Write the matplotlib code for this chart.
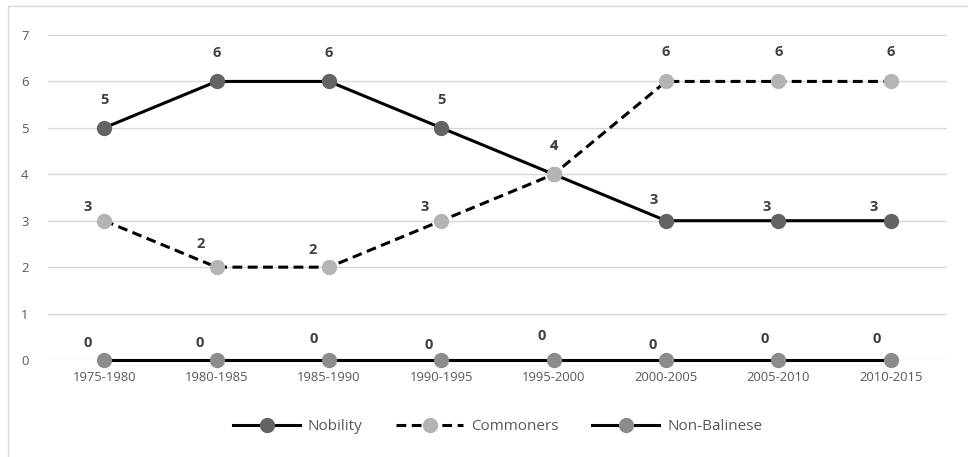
import matplotlib
matplotlib.use("Agg")
from matplotlib import pyplot as plt
from matplotlib.patches import Rectangle

# periods on the x axis
periods = ['1975-1980', '1980-1985', '1985-1990', '1990-1995',
           '1995-2000', '2000-2005', '2005-2010', '2010-2015']

nobility = [5, 6, 6, 5, 4, 3, 3, 3]
commoners = [3, 2, 2, 3, 4, 6, 6, 6]
non_balinese = [0, 0, 0, 0, 0, 0, 0, 0]

# label offsets in pixels (dx, dy), Excel pushed some of them aside
nob_off = [(0, 28), (0, 28), (0, 28), (0, 28), (0, 28), (-12, 21), (-12, 14), (-17, 14)]
com_off = [(-16, 14), (-16, 23), (-16, 17), (-17, 14), (0, 28), (0, 29), (0, 29), (0, 29)]
non_off = [(-17, 17), (-17, 17), (-15, 21), (-13, 15), (-12, 24), (-13, 15), (-14, 21), (-14, 21)]

plt.rcParams['font.family'] = ['Open Sans', 'DejaVu Sans']

fig = plt.figure(figsize=(9.68, 4.57), dpi=100)
ax = fig.add_axes([48 / 968, 1 - 360 / 457, 899 / 968, 325 / 457])

x = list(range(len(periods)))
lw = 2.2
ax.plot(x, nobility, color='black', lw=lw, marker='o', ms=10,
        mfc='#636363', mec='#636363', label='Nobility', zorder=3, clip_on=False)
ax.plot(x, commoners, color='black', lw=lw, ls=(0, (3.2, 1.8)), marker='o', ms=10,
        mfc='#b4b4b4', mec='#b4b4b4', label='Commoners', zorder=4, clip_on=False)
ax.plot(x, non_balinese, color='black', lw=lw, marker='o', ms=10,
        mfc='#8c8c8c', mec='#8c8c8c', label='Non-Balinese', zorder=3, clip_on=False)

for series, offs in [(nobility, nob_off), (commoners, com_off), (non_balinese, non_off)]:
    for i, v in enumerate(series):
        dx, dy = offs[i]
        ax.annotate(str(v), (i, v), xytext=(dx, dy), textcoords='offset pixels',
                    ha='center', va='center', fontsize=10.5, fontweight='bold',
                    color='#404040', zorder=5)

ax.set_xlim(-0.5, len(periods) - 0.5)
ax.set_ylim(0, 7)
ax.set_yticks(range(8))
ax.set_xticks(x)
ax.set_xticklabels(periods)
ax.tick_params(length=0, labelsize=9.4, labelcolor='#595959', pad=8)
ax.tick_params(axis='y', pad=14)
ax.grid(axis='y', color='#d9d9d9', lw=1)
ax.set_axisbelow(True)
for s in ax.spines.values():
    s.set_visible(False)

fig.legend(loc='center', bbox_to_anchor=(0.514, 0.066), ncol=3, frameon=False,
           fontsize=11, labelcolor='#595959', handlelength=4.4, handletextpad=0.5,
           columnspacing=2.2)

# light border round the chart
fig.patches.append(Rectangle((8 / 968, -0.05), 1.0, 1.05 - 6 / 457, transform=fig.transFigure,
                             fill=False, ec='#d9d9d9', lw=1))

fig.savefig('out.png', dpi=100)
